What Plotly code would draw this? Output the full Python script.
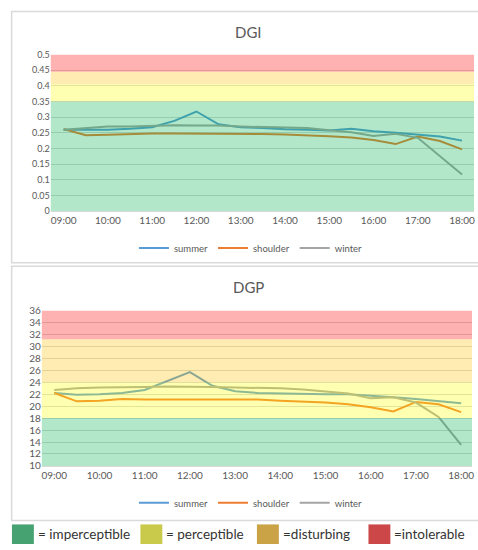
import plotly.graph_objects as go

times = [9 + 0.5 * i for i in range(19)]
tick_vals = list(range(9, 19))
tick_text = ["09:00", "10:00", "11:00", "12:00", "13:00", "14:00", "15:00", "16:00", "17:00", "18:00"]

dgi_summer = [0.26, 0.26, 0.26, 0.263, 0.268, 0.288, 0.318, 0.277, 0.268, 0.265, 0.261, 0.26, 0.257, 0.263, 0.255, 0.25, 0.245, 0.238, 0.225]
dgi_shoulder = [0.262, 0.242, 0.244, 0.247, 0.248, 0.248, 0.248, 0.248, 0.246, 0.246, 0.245, 0.243, 0.239, 0.235, 0.227, 0.214, 0.238, 0.224, 0.197]
dgi_winter = [0.26, 0.265, 0.27, 0.27, 0.272, 0.274, 0.273, 0.273, 0.27, 0.268, 0.267, 0.265, 0.258, 0.252, 0.24, 0.247, 0.234, 0.177, 0.117]

dgp_summer = [22.2, 21.9, 22.0, 22.2, 22.7, 24.2, 25.7, 23.4, 22.5, 22.2, 22.1, 22.1, 22.0, 22.0, 21.8, 21.5, 21.2, 20.9, 20.5]
dgp_shoulder = [22.2, 20.8, 20.9, 21.2, 21.1, 21.1, 21.1, 21.1, 21.0, 21.1, 20.9, 20.8, 20.6, 20.3, 19.8, 19.1, 20.7, 20.3, 19.0]
dgp_winter = [22.7, 23.0, 23.1, 23.1, 23.2, 23.3, 23.3, 23.2, 23.1, 23.1, 23.0, 22.8, 22.4, 22.1, 21.3, 21.5, 20.6, 18.2, 13.5]

series_names = ["summer", "shoulder", "winter"]
series_colors = ["#5B9BD5", "#ED7D31", "#A5A5A5"]

dgi_bands = [(0, 0.35, "#00B050"), (0.35, 0.405, "#FFFF00"), (0.405, 0.445, "#FFC000"), (0.445, 0.5, "#FF0000")]
dgp_bands = [(10, 18, "#00B050"), (18, 24, "#FFFF00"), (24, 31.2, "#FFC000"), (31.2, 36, "#FF0000")]

key_colors = ["#46A271", "#C9C94B", "#C9A345", "#CC4848"]
key_labels = ["= imperceptible", "= perceptible", "=disturbing", "=intolerable"]

W, H = 478, 550
FONT = "Lato, Open Sans, sans-serif"
GRAY = "#595959"

fig = go.Figure()

for name, col, ys in zip(series_names, series_colors, [dgi_summer, dgi_shoulder, dgi_winter]):
    fig.add_trace(go.Scatter(x=times, y=ys, mode="lines", name=name, line=dict(color=col, width=2),
                             xaxis="x", yaxis="y", legend="legend"))
for name, col, ys in zip(series_names, series_colors, [dgp_summer, dgp_shoulder, dgp_winter]):
    fig.add_trace(go.Scatter(x=times, y=ys, mode="lines", name=name, line=dict(color=col, width=2),
                             xaxis="x2", yaxis="y2", legend="legend2"))

shapes = []
# panel borders
shapes.append(dict(type="rect", xref="paper", yref="paper", x0=11.7 / W, x1=1.01, y0=1 - 262 / H, y1=1 - 5.5 / H,
                   line=dict(color="#DADADA", width=1.5), layer="below"))
shapes.append(dict(type="rect", xref="paper", yref="paper", x0=11.7 / W, x1=1.01, y0=1 - 525 / H, y1=1 - 265.5 / H,
                   line=dict(color="#DADADA", width=1.5), layer="below"))

for (y0, y1, c) in dgi_bands:
    shapes.append(dict(type="rect", xref="x domain", yref="y", x0=0, x1=1, y0=y0, y1=y1,
                       fillcolor=c, opacity=0.3, line=dict(width=0), layer="above"))
for (y0, y1, c) in dgp_bands:
    shapes.append(dict(type="rect", xref="x2 domain", yref="y2", x0=0, x1=1, y0=y0, y1=y1,
                       fillcolor=c, opacity=0.3, line=dict(width=0), layer="above"))

annotations = [
    dict(text="DGI", x=250 / W, y=1 - 27 / H, xref="paper", yref="paper", showarrow=False,
         font=dict(size=15, color=GRAY, family=FONT), xanchor="center", yanchor="middle"),
    dict(text="DGP", x=250 / W, y=1 - 287 / H, xref="paper", yref="paper", showarrow=False,
         font=dict(size=15, color=GRAY, family=FONT), xanchor="center", yanchor="middle"),
]

key_x = [12, 141, 258, 370]
for kx, kc, kl in zip(key_x, key_colors, key_labels):
    shapes.append(dict(type="rect", xref="paper", yref="paper", x0=kx / W, x1=(kx + 22) / W,
                       y0=1 - 549 / H, y1=1 - 529 / H, fillcolor=kc, line=dict(width=0)))
    annotations.append(dict(text=kl, x=(kx + 24) / W, y=1 - 539 / H, xref="paper", yref="paper",
                            showarrow=False, xanchor="left", yanchor="middle",
                            font=dict(size=13.5, color="#333333", family=FONT)))

axis_common = dict(showgrid=False, zeroline=False, ticks="", tickfont=dict(size=10, color=GRAY, family=FONT),
                   showline=True, linecolor="#D9D9D9", linewidth=1)

fig.update_layout(
    width=W, height=H,
    margin=dict(l=0, r=0, t=0, b=0),
    paper_bgcolor="white", plot_bgcolor="white",
    showlegend=True,
    xaxis=dict(domain=[51 / W, 476 / W], range=[8.71, 18.27], tickvals=tick_vals, ticktext=tick_text,
               anchor="y", **axis_common),
    yaxis=dict(domain=[1 - 209.3 / H, 1 - 49.5 / H], range=[0, 0.5],
               tickvals=[0, 0.05, 0.1, 0.15, 0.2, 0.25, 0.3, 0.35, 0.4, 0.45, 0.5],
               ticktext=["0", "0.05", "0.1", "0.15", "0.2", "0.25", "0.3", "0.35", "0.4", "0.45", "0.5"],
               showgrid=True, gridcolor="#D9D9D9", gridwidth=1, zeroline=False, ticks="",
               tickfont=dict(size=9, color=GRAY, family=FONT), anchor="x", showline=False),
    xaxis2=dict(domain=[42 / W, 474 / W], range=[8.725, 18.24], tickvals=tick_vals, ticktext=tick_text,
                anchor="y2", **axis_common),
    yaxis2=dict(domain=[1 - 469.3 / H, 1 - 310.7 / H], range=[10, 36], dtick=2,
                showgrid=True, gridcolor="#D9D9D9", gridwidth=1, zeroline=False, ticks="",
                tickfont=dict(size=10, color=GRAY, family=FONT), anchor="x2", showline=False),
    legend=dict(orientation="h", x=252 / W, y=1 - 247 / H, xanchor="center", yanchor="middle",
                font=dict(size=9.5, color=GRAY, family=FONT), bgcolor="rgba(0,0,0,0)", itemwidth=30,
                tracegroupgap=0),
    legend2=dict(orientation="h", x=252 / W, y=1 - 507 / H, xanchor="center", yanchor="middle",
                 font=dict(size=9.5, color=GRAY, family=FONT), bgcolor="rgba(0,0,0,0)", itemwidth=30,
                 tracegroupgap=0),
    shapes=shapes,
    annotations=annotations,
)

fig.write_html("out.html", config={"displayModeBar": False},
               post_script="document.body.style.margin='0px';document.body.style.overflow='hidden';")
